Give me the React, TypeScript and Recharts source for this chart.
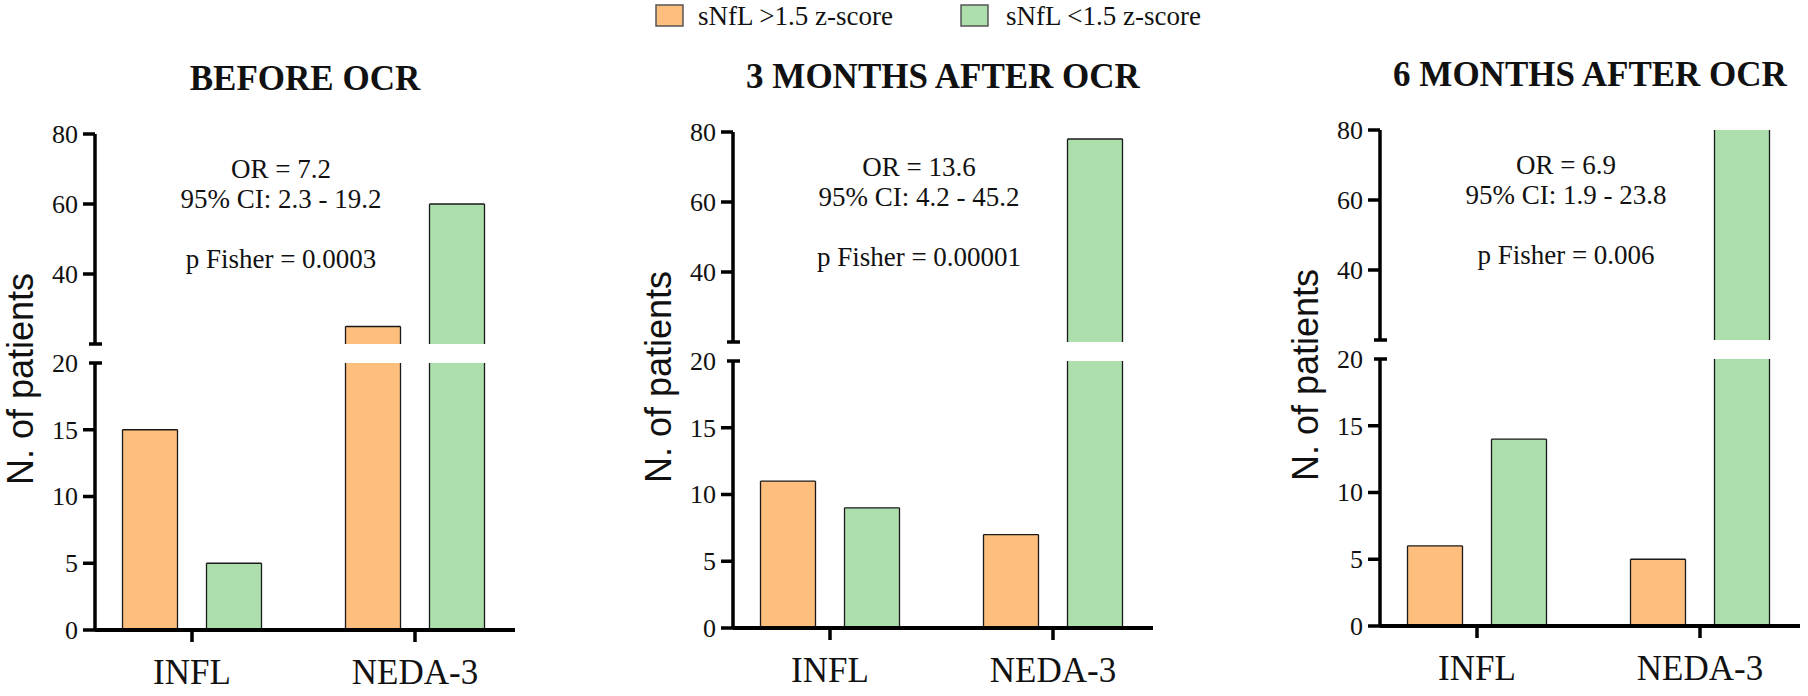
import React from 'react';
import { BarChart, Bar, XAxis, YAxis } from 'recharts';

const colors = {
  high: '#FDBE7E',
  low: '#ADDFAD',
  edge: '#1a1a1a',
  axis: '#000000',
};

const serif = "'Times New Roman', 'Liberation Serif', serif";
const sans = "Arial, 'Liberation Sans', sans-serif";

// data
const categories = ['INFL', 'NEDA-3'];
const panelTitles = ['BEFORE OCR', '3 MONTHS AFTER OCR', '6 MONTHS AFTER OCR'];
const beforeHigh = [15, 25];
const beforeLow = [5, 60];
const threeMonthHigh = [11, 7];
const threeMonthLow = [9, 78];
const sixMonthHigh = [6, 5];
const sixMonthLow = [14, 81];
const oddsRatios = ['7.2', '13.6', '6.9'];
const confidence = ['2.3 - 19.2', '4.2 - 45.2', '1.9 - 23.8'];
const fisherP = ['0.0003', '0.00001', '0.006'];
const upperTicks = [20, 40, 60, 80];
const lowerTicks = [0, 5, 10, 15, 20];
const legendLabels = ['sNfL >1.5 z-score', 'sNfL <1.5 z-score'];

const highSeries = [beforeHigh, threeMonthHigh, sixMonthHigh];
const lowSeries = [beforeLow, threeMonthLow, sixMonthLow];

// layout (page px)
const panelPos = [
  { axisX: 95, y80: 134 },
  { axisX: 733, y80: 132 },
  { axisX: 1380, y80: 130 },
];
const AXIS_X = 95; // y-axis position inside each chart
const PLOT_W = 420;
const UPPER_H = 210;
const LOWER_H = 267;
const BREAK_GAP = 19;
const X_AXIS_H = 72;
const CHART_W = AXIS_X + PLOT_W + 8;
const xDomain = [-97 / 223, (PLOT_W - 97) / 223];

// bar with sides and top only, so the broken bars show no edge at the cut
const OpenBar = (props: any) => {
  const { x, y, width, height, fill } = props;
  if (height == null || width == null || height <= 0) return null;
  return (
    <g>
      <rect x={x} y={y} width={width} height={height} fill={fill} />
      <line x1={x} x2={x} y1={y} y2={y + height} stroke={colors.edge} strokeWidth={1.3} />
      <line x1={x + width} x2={x + width} y1={y} y2={y + height} stroke={colors.edge} strokeWidth={1.3} />
      <line x1={x} x2={x + width} y1={y} y2={y} stroke={colors.edge} strokeWidth={1.3} />
    </g>
  );
};

const makeYTick = (breakValue: number, labelBreak: boolean) => (props: any) => {
  const { y, payload } = props;
  const v = payload.value;
  const isBreak = v === breakValue;
  return (
    <g>
      <line
        x1={isBreak ? AXIS_X - 6 : AXIS_X - 12}
        x2={isBreak ? AXIS_X + 7 : AXIS_X}
        y1={y}
        y2={y}
        stroke={colors.axis}
        strokeWidth={3.5}
      />
      {(!isBreak || labelBreak) && (
        <text
          x={AXIS_X - 17}
          y={y}
          dy="0.34em"
          textAnchor="end"
          fontSize={26}
          fontFamily={serif}
          fill="#111"
        >
          {v}
        </text>
      )}
    </g>
  );
};

const upperTick = makeYTick(20, false);
const lowerTick = makeYTick(20, true);

function Panel({ index }: { index: number }) {
  const { axisX, y80 } = panelPos[index];
  const rows = categories.map((name, i) => ({
    pos: i,
    name,
    high: highSeries[index][i],
    low: lowSeries[index][i],
  }));
  const upperRows = rows.map((r) => ({
    pos: r.pos,
    high: r.high > 20 ? r.high : null,
    low: r.low > 20 ? r.low : null,
  }));
  const left = axisX - AXIS_X;
  const annX = AXIS_X + 186;

  return (
    <div style={{ position: 'absolute', left, top: 0, width: CHART_W, height: 696 }}>
      <svg
        width={CHART_W}
        height={696}
        style={{ position: 'absolute', left: 0, top: 0 }}
      >
        <text
          x={AXIS_X + PLOT_W / 2}
          y={y80 - 44}
          textAnchor="middle"
          fontSize={35}
          fontWeight="bold"
          fontFamily={serif}
          fill="#111"
        >
          {panelTitles[index]}
        </text>
        <g fontFamily={serif} fontSize={27} fill="#111" textAnchor="middle">
          <text x={annX} y={y80 + 44}>OR = {oddsRatios[index]}</text>
          <text x={annX} y={y80 + 74}>95% CI: {confidence[index]}</text>
          <text x={annX} y={y80 + 134}>p Fisher = {fisherP[index]}</text>
        </g>
        <text
          transform={`translate(${AXIS_X - 62}, ${y80 + 245}) rotate(-90)`}
          textAnchor="middle"
          fontSize={36}
          fontFamily={sans}
          fill="#111"
        >
          N. of patients
        </text>
      </svg>

      <div style={{ position: 'absolute', left: 0, top: y80 - 20 }}>
        <BarChart
          width={CHART_W}
          height={UPPER_H + 40}
          data={upperRows}
          margin={{ top: 20, right: 8, bottom: 20, left: 0 }}
          barSize={55}
          barGap={29}
        >
          <XAxis type="number" dataKey="pos" domain={xDomain} ticks={[0, 1]} hide />
          <YAxis
            type="number"
            domain={[20, 80]}
            ticks={upperTicks}
            interval={0}
            allowDataOverflow
            width={AXIS_X}
            axisLine={{ stroke: colors.axis, strokeWidth: 3.5 }}
            tickLine={false}
            tick={upperTick}
          />
          <Bar dataKey="high" fill={colors.high} shape={OpenBar} isAnimationActive={false} />
          <Bar dataKey="low" fill={colors.low} shape={OpenBar} isAnimationActive={false} />
        </BarChart>
      </div>

      <div style={{ position: 'absolute', left: 0, top: y80 + UPPER_H + BREAK_GAP - 20 }}>
        <BarChart
          width={CHART_W}
          height={LOWER_H + 20 + X_AXIS_H}
          data={rows}
          margin={{ top: 20, right: 8, bottom: 0, left: 0 }}
          barSize={55}
          barGap={29}
        >
          <XAxis
            type="number"
            dataKey="pos"
            domain={xDomain}
            ticks={[0, 1]}
            interval={0}
            height={X_AXIS_H}
            tickFormatter={(i: number) => categories[i]}
            axisLine={{ stroke: colors.axis, strokeWidth: 4 }}
            tickLine={{ stroke: colors.axis, strokeWidth: 3.5 }}
            tickSize={12}
            tickMargin={17}
            tick={{ fill: '#111', fontSize: 35, fontFamily: serif }}
          />
          <YAxis
            type="number"
            domain={[0, 20]}
            ticks={lowerTicks}
            interval={0}
            allowDataOverflow
            width={AXIS_X}
            axisLine={{ stroke: colors.axis, strokeWidth: 3.5 }}
            tickLine={false}
            tick={lowerTick}
          />
          <Bar dataKey="high" fill={colors.high} shape={OpenBar} isAnimationActive={false} />
          <Bar dataKey="low" fill={colors.low} shape={OpenBar} isAnimationActive={false} />
        </BarChart>
      </div>
    </div>
  );
}

function LegendRow() {
  const items = [
    { x: 656, textX: 698, fill: colors.high, label: legendLabels[0] },
    { x: 961, textX: 1006, fill: colors.low, label: legendLabels[1] },
  ];
  return (
    <svg width={1808} height={40} style={{ position: 'absolute', left: 0, top: 0 }}>
      {items.map((it) => (
        <g key={it.label}>
          <rect x={it.x} y={5} width={27} height={21} fill={it.fill} stroke="#555" strokeWidth={1.5} />
          <text x={it.textX} y={25} fontSize={27} fontFamily={serif} fill="#111">
            {it.label}
          </text>
        </g>
      ))}
    </svg>
  );
}

export default function App() {
  return (
    <div
      style={{
        position: 'absolute',
        left: 0,
        top: 0,
        width: 1808,
        height: 696,
        background: '#ffffff',
        overflow: 'hidden',
      }}
    >
      <LegendRow />
      {panelTitles.map((t, i) => (
        <Panel key={t} index={i} />
      ))}
    </div>
  );
}
